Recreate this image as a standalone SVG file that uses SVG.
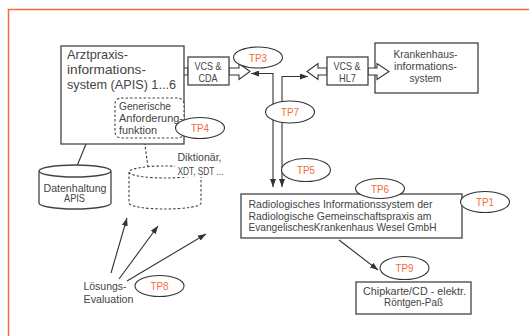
<svg xmlns="http://www.w3.org/2000/svg" width="529" height="336" viewBox="0 0 529 336">
<defs>
<marker id="ah" viewBox="0 0 8 6" refX="8" refY="3" markerWidth="8" markerHeight="6" markerUnits="userSpaceOnUse" orient="auto-start-reverse"><path d="M0,0 L8,3 L0,6 Z" fill="#333"/></marker>
</defs>
<style>
.frame{fill:none;stroke:#f26b3a;stroke-width:1.5}
.box{fill:#fff;stroke:#444;stroke-width:1.3}
.dbox{fill:#fff;stroke:#444;stroke-width:1.1;stroke-dasharray:2.5,2}
.t{font-family:"Liberation Sans",Arial,sans-serif;fill:#444;font-size:11px}
.tl{font-size:13px}
.tp{font-family:"Liberation Sans",Arial,sans-serif;fill:#f26b3a;font-size:11px;text-anchor:middle}
.el{fill:#fff;stroke:#333;stroke-width:1.1}
.ln{fill:none;stroke:#333;stroke-width:1.1}
.dl{fill:none;stroke:#333;stroke-width:1.1;stroke-dasharray:2.5,2}
.ba{fill:#fff;stroke:#333;stroke-width:1.1}
</style>
<rect class="frame" x="8.5" y="9.5" width="600" height="400"/>
<g id="connectors">
<line class="ln" x1="86" y1="144" x2="77" y2="166"/>
<line class="dl" x1="144" y1="138" x2="148" y2="167"/>
<polyline class="ln" points="273,187 273,73.5 251,73.5" marker-start="url(#ah)" marker-end="url(#ah)"/>
<polyline class="ln" points="282,187 282,76.5 308,76.5" marker-start="url(#ah)" marker-end="url(#ah)"/>
<line class="ln" x1="111" y1="273" x2="127" y2="218" marker-end="url(#ah)"/>
<line class="ln" x1="119" y1="279" x2="158" y2="226" marker-end="url(#ah)"/>
<line class="ln" x1="127" y1="281" x2="206" y2="234" marker-end="url(#ah)"/>
<line class="ln" x1="339" y1="240" x2="378" y2="270" marker-end="url(#ah)"/>
<polygon class="ba" points="168,71.5 179,63.5 179,68 188,68 188,75 179,75 179,79.5"/>
<polygon class="ba" points="229,68 239,68 239,63.5 250,71.5 239,79.5 239,75 229,75"/>
<polygon class="ba" points="307,71.5 318,63.5 318,68 327,68 327,75 318,75 318,79.5"/>
</g>
<g id="apis">
<rect class="box" x="61" y="46" width="123" height="98"/>
<text class="t tl" x="67" y="59" textLength="61" lengthAdjust="spacingAndGlyphs">Arztpraxis-</text>
<text class="t tl" x="67" y="74" textLength="79" lengthAdjust="spacingAndGlyphs">informations-</text>
<text class="t tl" x="67" y="89" textLength="109" lengthAdjust="spacingAndGlyphs">system (APIS) 1...6</text>
</g>
<g id="anforderung">
<rect class="dbox" x="115" y="98" width="69" height="40" rx="6"/>
<text class="t" x="119" y="110" textLength="52" lengthAdjust="spacingAndGlyphs">Generische</text>
<text class="t" x="119" y="122" textLength="64" lengthAdjust="spacingAndGlyphs">Anforderung-</text>
<text class="t" x="119" y="133.5" textLength="38" lengthAdjust="spacingAndGlyphs">funktion</text>
</g>
<g id="vcs-cda">
<rect class="box" x="188" y="57" width="41" height="28"/>
<text class="t" x="194.5" y="69.5" textLength="27" lengthAdjust="spacingAndGlyphs">VCS &amp;</text>
<text class="t" x="198.5" y="82" textLength="19" lengthAdjust="spacingAndGlyphs">CDA</text>
</g>
<g id="krankenhaus">
<rect class="box" x="375" y="43" width="103" height="50"/>
<text class="t" x="393.5" y="57.5" textLength="64" lengthAdjust="spacingAndGlyphs">Krankenhaus-</text>
<text class="t" x="394" y="69.5" textLength="63" lengthAdjust="spacingAndGlyphs">informations-</text>
<text class="t" x="409.5" y="82" textLength="32" lengthAdjust="spacingAndGlyphs">system</text>
</g>
<g id="vcs-hl7">
<polygon class="ba" points="368,68 377,68 377,63.5 389,71.5 377,79.5 377,75 368,75"/>
<rect class="box" x="327" y="57" width="41" height="28"/>
<text class="t" x="333.5" y="69.5" textLength="27" lengthAdjust="spacingAndGlyphs">VCS &amp;</text>
<text class="t" x="339" y="82" textLength="17" lengthAdjust="spacingAndGlyphs">HL7</text>
</g>
<g id="datenhaltung">
<path class="box" d="M39,171 L39,203 A36,6 0 0 0 111,203 L111,171 A36,6 0 0 0 39,171 Z M39,171 A36,6 0 0 0 111,171"/>
<text class="t" x="43.5" y="191.5" textLength="63" lengthAdjust="spacingAndGlyphs">Datenhaltung</text>
<text class="t" x="64" y="202" textLength="21" lengthAdjust="spacingAndGlyphs">APIS</text>
</g>
<g id="diktionaer">
<path class="dbox" d="M129,172 L129,203 A36,6 0 0 0 201,203 L201,172 A36,6 0 0 0 129,172 Z M129,172 A36,6 0 0 0 201,172"/>
<rect x="175" y="150" width="52" height="27" fill="#fff"/>
<text class="t" x="177.5" y="161" textLength="44" lengthAdjust="spacingAndGlyphs">Diktionär,</text>
<text class="t" x="177.5" y="175" textLength="46" lengthAdjust="spacingAndGlyphs">XDT, SDT ...</text>
</g>
<g id="ris">
<rect class="box" x="241" y="194" width="221" height="44"/>
<text class="t" x="248.5" y="208" textLength="184" lengthAdjust="spacingAndGlyphs">Radiologisches Informationssystem der</text>
<text class="t" x="248.5" y="219.5" textLength="183" lengthAdjust="spacingAndGlyphs">Radiologische Gemeinschaftspraxis am</text>
<text class="t" x="248.5" y="231" textLength="188" lengthAdjust="spacingAndGlyphs">EvangelischesKrankenhaus Wesel GmbH</text>
</g>
<g id="chipkarte">
<rect class="box" x="356" y="282" width="115" height="32"/>
<text class="t" x="363" y="294.5" textLength="103" lengthAdjust="spacingAndGlyphs">Chipkarte/CD - elektr.</text>
<text class="t" x="384" y="306" textLength="59" lengthAdjust="spacingAndGlyphs">Röntgen-Paß</text>
</g>
<g id="loesung">
<text class="t" x="83.5" y="290" textLength="43" lengthAdjust="spacingAndGlyphs">Lösungs-</text>
<text class="t" x="83.5" y="302.5" textLength="50" lengthAdjust="spacingAndGlyphs">Evaluation</text>
</g>
<g id="tp3"><ellipse class="el" cx="258" cy="57.5" rx="24.5" ry="10.5"/><text class="tp" x="258" y="61.5" textLength="18" lengthAdjust="spacingAndGlyphs">TP3</text></g>
<g id="tp4"><ellipse class="el" cx="200" cy="128" rx="24.5" ry="10.5"/><text class="tp" x="200" y="132" textLength="18" lengthAdjust="spacingAndGlyphs">TP4</text></g>
<g id="tp7"><ellipse class="el" cx="290" cy="112" rx="24.5" ry="11"/><text class="tp" x="290" y="116" textLength="18" lengthAdjust="spacingAndGlyphs">TP7</text></g>
<g id="tp5"><ellipse class="el" cx="306" cy="170" rx="24.5" ry="11.5"/><text class="tp" x="306" y="174" textLength="18" lengthAdjust="spacingAndGlyphs">TP5</text></g>
<g id="tp6"><ellipse class="el" cx="380" cy="188.5" rx="24.5" ry="10"/><text class="tp" x="380" y="192.5" textLength="18" lengthAdjust="spacingAndGlyphs">TP6</text></g>
<g id="tp1"><ellipse class="el" cx="485" cy="202" rx="24.5" ry="10.5"/><text class="tp" x="485" y="206" textLength="18" lengthAdjust="spacingAndGlyphs">TP1</text></g>
<g id="tp9"><ellipse class="el" cx="404.5" cy="268" rx="24.5" ry="11.5"/><text class="tp" x="404.5" y="272" textLength="18" lengthAdjust="spacingAndGlyphs">TP9</text></g>
<g id="tp8"><ellipse class="el" cx="159.5" cy="286" rx="24.5" ry="10.5"/><text class="tp" x="159.5" y="290" textLength="18" lengthAdjust="spacingAndGlyphs">TP8</text></g>
</svg>
